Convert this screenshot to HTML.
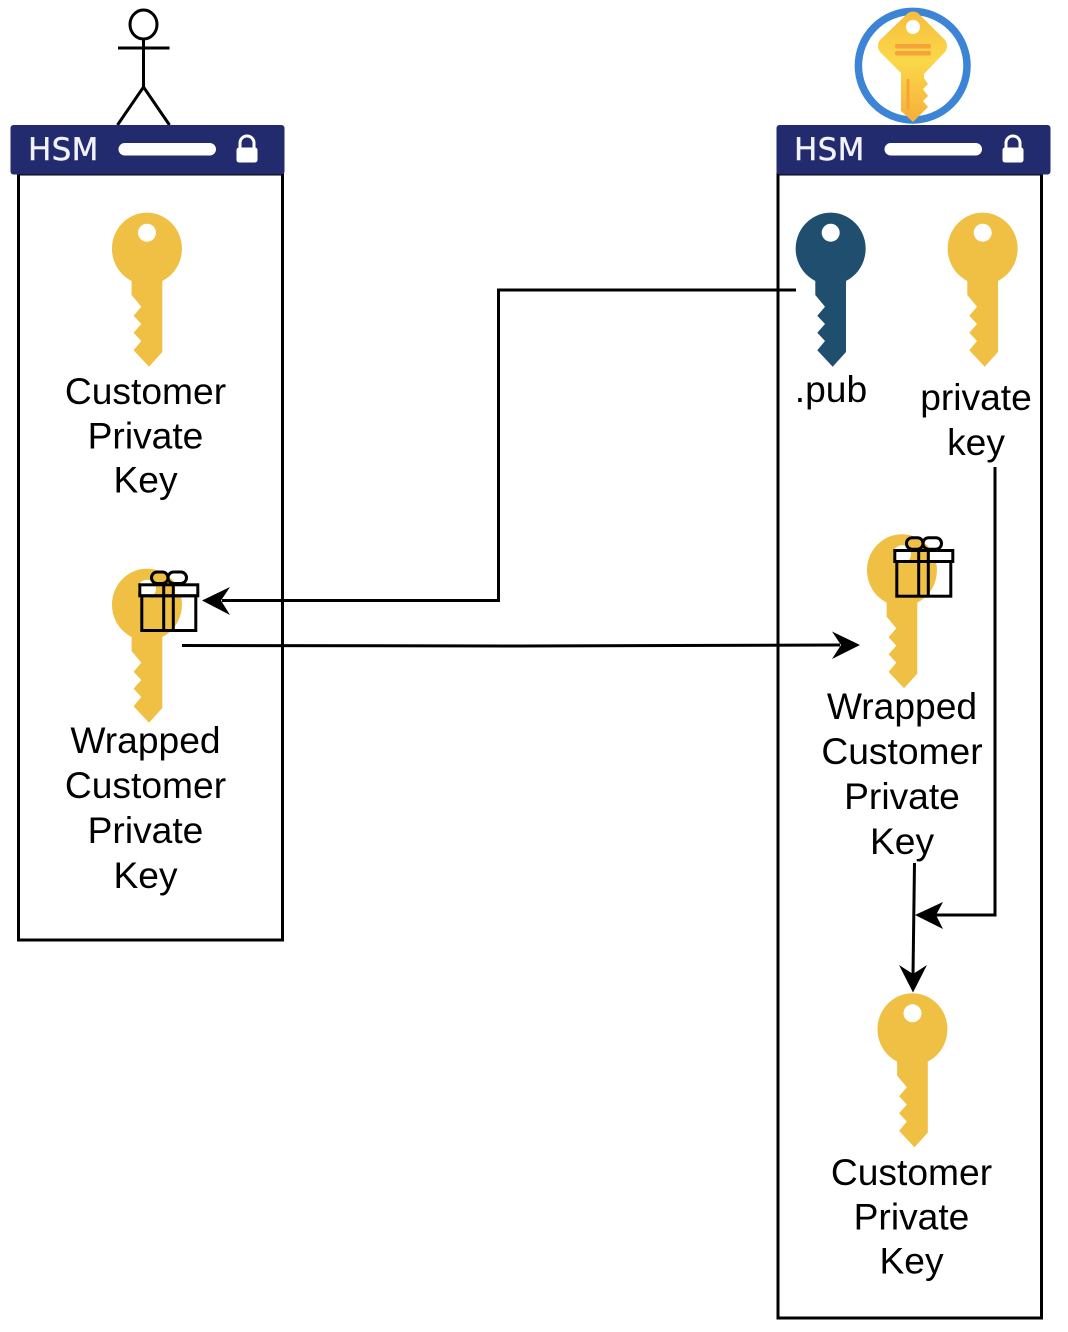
<!DOCTYPE html>
<html>
<head>
<meta charset="utf-8">
<style>
html,body{margin:0;padding:0;background:#fff;width:1068px;height:1332px;overflow:hidden}
svg{display:block}
.t{font-family:"Liberation Sans",sans-serif;font-size:37.2px;fill:#000;text-anchor:middle}
.h{font-family:"DejaVu Sans",sans-serif;font-size:31px;letter-spacing:.3px;fill:#f2f2f8;stroke:#f2f2f8;stroke-width:.4px}
</style>
</head>
<body>
<svg width="1068" height="1332" viewBox="0 0 1068 1332" xmlns="http://www.w3.org/2000/svg">
<defs>
<path id="keyShape" fill-rule="evenodd" d="M-15.4,32.3 A35,36 0 1 1 15.3,32.3 L15.3,103.3 L2,118 L-13.4,101.6 L-5.7,92.3 L-13.4,84 L-5.7,75.3 L-13.4,67 L-5.7,58 L-15.4,46.3 Z M9,-16 A9,9 0 1 0 -9,-16 A9,9 0 1 0 9,-16 Z"/>
<g id="gift">
<rect x="175" y="585" width="23" height="11" fill="#fff"/>
<g fill="none" stroke="#000" stroke-width="3">
<rect x="151.5" y="572" width="16.5" height="11.5" rx="5.7"/>
<rect x="168" y="572" width="18.5" height="11.5" rx="5.7"/>
<rect x="139.8" y="584.8" width="58" height="11"/>
<rect x="141.8" y="595.8" width="54" height="34.7"/>
<line x1="163.7" y1="584.8" x2="163.7" y2="630.5"/>
<line x1="173.3" y1="584.8" x2="173.3" y2="630.5"/>
</g>
</g>
<g id="hdr">
<rect x="10.5" y="125" width="274" height="49.5" rx="3" fill="#232b6f"/>
<text class="h" x="28" y="160">HSM</text>
<rect x="118.5" y="143" width="97.5" height="12.5" rx="6.2" fill="#fff"/>
<rect x="236.5" y="147.5" width="21" height="15" rx="2.5" fill="#fff"/>
<path d="M240,149 V143 A7,7 0 0 1 254,143 V149" fill="none" stroke="#fff" stroke-width="3"/>
</g>
<linearGradient id="gk" x1="0" y1="0" x2="0" y2="1">
<stop offset="0" stop-color="#f7bd3e"/><stop offset="0.45" stop-color="#fbd848"/><stop offset="1" stop-color="#f6ae3a"/>
</linearGradient>
</defs>

<!-- boxes -->
<rect x="18.5" y="174" width="264" height="766" fill="#fff" stroke="#000" stroke-width="3"/>
<rect x="778" y="174" width="263.5" height="1144" fill="#fff" stroke="#000" stroke-width="3"/>

<!-- actor -->
<g fill="none" stroke="#000" stroke-width="3">
<ellipse cx="143.5" cy="24.5" rx="13.5" ry="14.5"/>
<path d="M143.5,39 V87 M118,48 H169.5 M117.5,125 L143.5,87 L169.5,125"/>
</g>

<!-- headers -->
<use href="#hdr"/>
<use href="#hdr" x="766"/>

<!-- top key icon -->
<circle cx="912.7" cy="65.7" r="54.3" fill="#fff" stroke="#3c84d6" stroke-width="7.5"/>
<path fill="url(#gk)" d="M908,13 Q913,10 918,13 L945,40 Q949,46 945,52 L924,74 L924,78 L928,84 L923,89 L928,96 L923,101 L928,107 L913,122 L901,111 L901,73 L880,52 Q876,46 880,40 Z"/>
<circle cx="913" cy="27" r="7" fill="#fff"/>
<rect x="895" y="44" width="36" height="4.5" rx="2" fill="#f5a33a"/>
<rect x="895" y="51" width="36" height="4.5" rx="2" fill="#f5a33a"/>
<rect x="906.5" y="79" width="3" height="31" rx="1.5" fill="#f5a33a"/>

<!-- keys -->
<use href="#keyShape" transform="translate(147,248.7)" fill="#f0c044"/>
<use href="#keyShape" transform="translate(147,604.7)" fill="#f0c044"/>
<use href="#keyShape" transform="translate(830.7,248.7)" fill="#1f4e6f"/>
<use href="#keyShape" transform="translate(982.7,248.7)" fill="#f0c044"/>
<use href="#keyShape" transform="translate(902,570.3)" fill="#f0c044"/>
<use href="#keyShape" transform="translate(912.5,1029.3)" fill="#f0c044"/>

<!-- gifts -->
<use href="#gift"/>
<use href="#gift" x="755" y="-34.3"/>

<!-- connectors -->
<g fill="none" stroke="#000" stroke-width="3">
<path d="M796,290 H498.5 V600.5 H222"/>
<path d="M182,645.5 L520,646 L840,645"/>
<path d="M995,467 V915 H935"/>
<path d="M914.5,863 L913,975"/>
</g>
<g fill="#000">
<path d="M202,600.5 L230,587 L221,600.5 L230,615 Z"/>
<path d="M860,645 L832,631.5 L841,645 L832,659 Z"/>
<path d="M915,915 L943,902 L936,915 L943,929 Z"/>
<path d="M913,992.5 L899,965 L913,974 L927,965 Z"/>
</g>

<!-- labels -->
<g>
<text class="t" x="145.5" y="404">Customer</text>
<text class="t" x="145.5" y="448.5">Private</text>
<text class="t" x="145.5" y="492.5">Key</text>
<text class="t" x="145.5" y="753">Wrapped</text>
<text class="t" x="145.5" y="798">Customer</text>
<text class="t" x="145.5" y="843">Private</text>
<text class="t" x="145.5" y="888">Key</text>
<text class="t" x="831" y="402">.pub</text>
<text class="t" x="976" y="410">private</text>
<text class="t" x="976" y="455">key</text>
<text class="t" x="902" y="719">Wrapped</text>
<text class="t" x="902" y="764">Customer</text>
<text class="t" x="902" y="809">Private</text>
<text class="t" x="902" y="854">Key</text>
<text class="t" x="911.5" y="1185">Customer</text>
<text class="t" x="911.5" y="1229.5">Private</text>
<text class="t" x="911.5" y="1273.5">Key</text>
</g>
</svg>
</body>
</html>
